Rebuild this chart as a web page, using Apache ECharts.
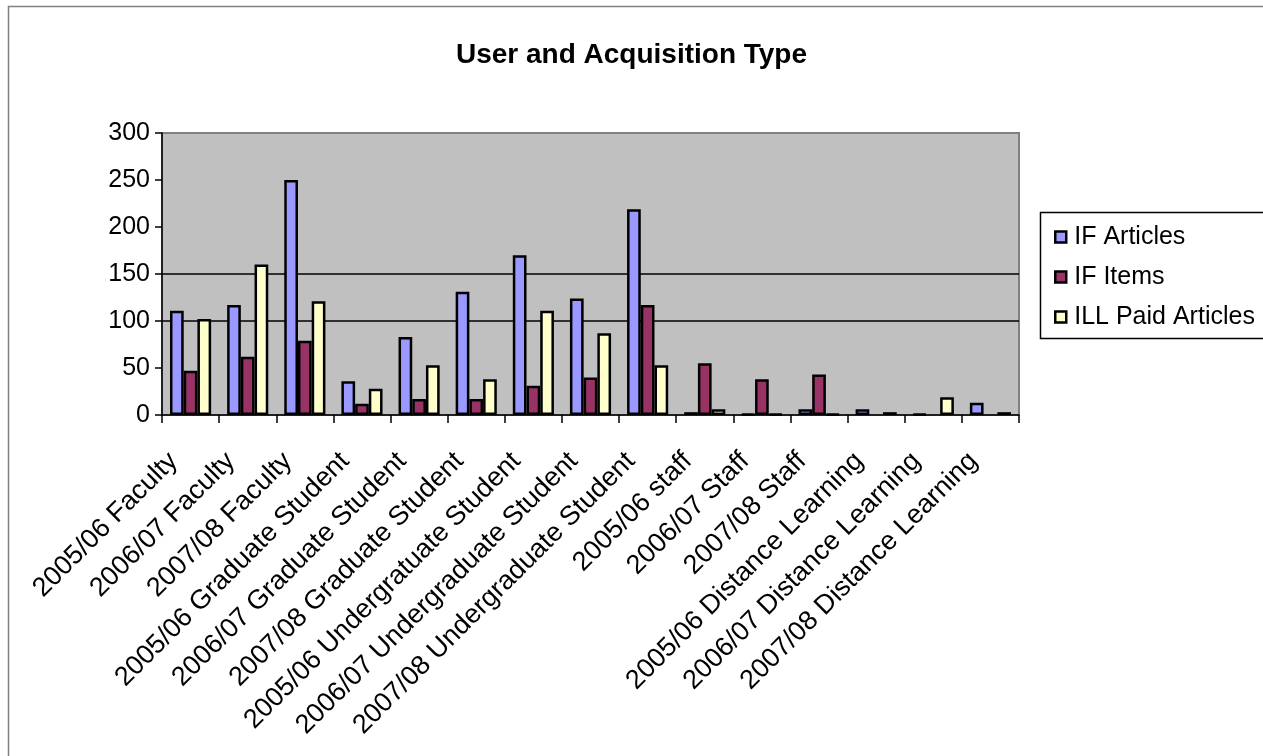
<!DOCTYPE html>
<html>
<head>
<meta charset="utf-8">
<script src="https://cdn.jsdelivr.net/npm/echarts@6/dist/echarts.min.js"></script>
<style>
html,body{margin:0;padding:0;background:#fff;}
#chart{width:1263px;height:756px;}
</style>
</head>
<body>
<div id="chart"></div>
<script>
const categories = [
  '2005/06 Faculty', '2006/07 Faculty', '2007/08 Faculty',
  '2005/06 Graduate Student', '2006/07 Graduate Student', '2007/08 Graduate Student',
  '2005/06 Undergratuate Student', '2006/07 Undergraduate Student', '2007/08 Undergraduate Student',
  '2005/06 staff', '2006/07 Staff', '2007/08 Staff',
  '2005/06 Distance Learning', '2006/07 Distance Learning', '2007/08 Distance Learning'
];
const ifArticles = [111, 117, 250, 36, 83, 131, 170, 124, 219, 3, 1, 6, 6, 1, 13];
const ifItems    = [47, 62, 79, 12, 17, 17, 31, 40, 117, 55, 38, 43, null, null, null];
const illPaid    = [102, 160, 121, 28, 53, 38, 111, 87, 53, 6, 1, 1, 3, 19, 3];
const yTicks = [0, 50, 100, 150, 200, 250, 300];
const seriesNames = ['IF Articles', 'IF Items', 'ILL Paid Articles'];

const FONT = 'Liberation Sans';
const chart = echarts.init(document.getElementById('chart'));
const colors = ['#9999FF', '#993366', '#FFFFCC'];
const seriesData = [ifArticles, ifItems, illPaid];

chart.setOption({
  animation: false,
  textStyle: { fontFamily: FONT },
  title: {
    text: 'User and Acquisition Type',
    left: 'center',
    top: 36,
    textStyle: { fontFamily: FONT, fontSize: 28, fontWeight: 'bold', color: '#000' }
  },
  graphic: [
    { type: 'rect', shape: { x: 8.5, y: 6.5, width: 1400, height: 900 },
      style: { fill: 'none', stroke: '#808080', lineWidth: 1.5 }, z: 0 },
    { type: 'rect', shape: { x: 1040.5, y: 212.5, width: 300, height: 126 },
      style: { fill: '#fff', stroke: '#000', lineWidth: 1.5 }, z: 1 }
  ],
  legend: {
    orient: 'vertical',
    left: 1049,
    top: 218,
    itemWidth: 11,
    itemHeight: 11,
    itemGap: 12,
    icon: 'rect',
    z: 5,
    itemStyle: { borderColor: '#000', borderWidth: 2.5 },
    textStyle: { fontFamily: FONT, fontSize: 25, color: '#000', lineHeight: 28, padding: [0, 0, 0, 3] },
    data: seriesNames
  },
  grid: {
    left: 162, right: 244, top: 133, bottom: 341,
    show: true, backgroundColor: '#C0C0C0', borderColor: '#808080', borderWidth: 2
  },
  xAxis: {
    type: 'category',
    data: categories,
    boundaryGap: true,
    axisLine: { lineStyle: { color: '#000', width: 1.5 } },
    axisTick: { show: true, interval: 0, length: 8, lineStyle: { color: '#000', width: 1.5 } },
    axisLabel: { interval: 0, rotate: 45, fontSize: 27, color: '#000', fontFamily: FONT,
      margin: 25, padding: [0, 24, 0, 0] },
    splitLine: { show: false }
  },
  yAxis: {
    type: 'value',
    min: 0, max: 300, interval: 50,
    axisLine: { show: true, lineStyle: { color: '#000', width: 1.5 } },
    axisTick: { show: true, length: 7, lineStyle: { color: '#000', width: 1.5 } },
    axisLabel: { fontSize: 25, color: '#000', fontFamily: FONT, margin: 12,
      formatter: v => yTicks.includes(v) ? String(v) : '' },
    splitLine: { show: true, lineStyle: { color: ['transparent', 'transparent', '#000', '#000', 'transparent', 'transparent', '#808080'], width: 1.5 } }
  },
  series: seriesNames.map((name, i) => ({
    name,
    type: 'bar',
    data: seriesData[i],
    barGap: '0%',
    barCategoryGap: '28%',
    itemStyle: { color: colors[i], borderColor: '#000', borderWidth: 2.5 }
  }))
});
</script>
</body>
</html>
